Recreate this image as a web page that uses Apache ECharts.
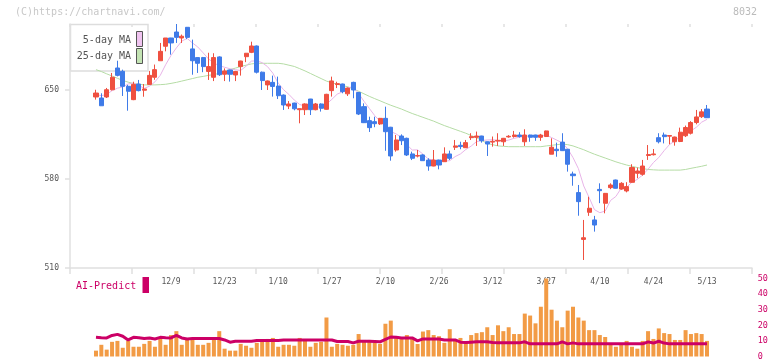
<!DOCTYPE html>
<html><head><meta charset="utf-8">
<script src="https://cdn.jsdelivr.net/npm/echarts@6/dist/echarts.min.js"></script>
<style>html,body{margin:0;padding:0;background:#fff}#c{width:772px;height:361px}</style>
</head><body><div id="c"></div>
<script>
const dates = ['11/19','11/20','11/21','11/22','11/25','11/26','11/27','11/28','11/29',
'12/2','12/3','12/4','12/5','12/6','12/9','12/10','12/11','12/12','12/13','12/16','12/17','12/18','12/19','12/20','12/23','12/24','12/25','12/26','12/27','12/30',
'1/6','1/7','1/8','1/9','1/10','1/14','1/15','1/16','1/17','1/20','1/21','1/22','1/23','1/24','1/27','1/28','1/29','1/30','1/31',
'2/3','2/4','2/5','2/6','2/7','2/10','2/12','2/13','2/14','2/17','2/18','2/19','2/20','2/21','2/25','2/26','2/27','2/28',
'3/3','3/4','3/5','3/6','3/7','3/10','3/11','3/12','3/13','3/14','3/17','3/18','3/19','3/21','3/24','3/25','3/26','3/27','3/28','3/31',
'4/1','4/2','4/3','4/4','4/7','4/8','4/9','4/10','4/11','4/14','4/15','4/16','4/17','4/18','4/21','4/22','4/23','4/24','4/25','4/28','4/30',
'5/1','5/2','5/7','5/8','5/9','5/12','5/13'];

const opens = [644.5,643.7,644.5,650.2,667.3,664.7,652.9,642.4,654.7,649.8,
654.4,660,673,684.4,690.9,695.6,690.9,699.3,682.3,675.5,
675.5,664.6,660,676,662.4,665.7,661.8,668.4,676.2,679.6,
684.6,664,654,656,653.1,646,637.4,639.7,634.5,634.5,
642.9,634.5,639,634.8,649.5,654.3,654.7,647,656,648,
636.9,625.9,625.1,623.3,627.7,620.7,602.8,613.8,612,599.7,
598,598.9,594.9,590.2,594.9,593.6,599.7,605,606.5,604.6,
612.5,612.8,613.8,609.3,609,609.8,609.3,613.1,613.4,614.6,
609.3,614.6,614.6,612.8,613.4,599.5,603.4,609,603.4,583.9,
569.3,532.5,553.8,547.8,571.8,560.9,573.2,579.2,572.1,570.6,
577.4,584.5,583.7,598.5,599.1,612.5,614.6,613.7,609.3,609.5,
614,616,624.4,629,635];
const closes = [647.6,637.6,650.2,660,661.5,652.9,649,654.4,649.5,650.8,
661.5,666,680.4,690.9,687,691.4,692.3,691.4,673,671,
668.4,668.4,675.5,662,665,662.4,664.6,672.8,678.9,684.6,
664,657.4,657.1,652.8,645.5,638.2,639,635.2,635.3,639,
634.5,639,635.6,646.6,657.1,655,648.7,651.5,650,631.1,
624.3,620.4,623.5,627.7,617.2,598.1,610.7,610.1,598.9,596.3,
598.5,594.4,590.2,594.9,591,599.7,596.3,606,605.5,608.6,
613.3,613.8,610.1,607.5,609.6,610.4,612,613.6,614.6,613.4,
614.6,612.8,612.8,614.6,617.8,605,602.3,602.3,591.6,582.6,
562.2,533.8,557,543.8,570.8,568.7,575.3,572.7,576.6,574,
589,586.3,590.2,599.2,599.7,609.3,613.3,614.2,613,616.8,
620.5,624.4,628.8,632.8,628.2];
const lows = [642.4,637.6,643.7,649.6,660.7,645.3,633.7,642,648.9,644.7,
654,658,673,680.4,677.8,687,687,690,662,663.4,
664,657.9,657,661,657,656.6,657,661.3,671.9,679,
663,650,650,644.8,642.9,634.3,635,634,623.8,630.3,
630.3,634,633,634.5,644.8,651.5,647.4,645.3,643.5,630.3,
624,617,620.7,622.5,602.2,594.4,601.5,606.7,598.1,594.9,
597,594.4,586.5,590,587.6,593.5,594.9,602.8,603.4,604.5,
610.7,606,608.6,598.1,605.4,606,606,612.5,612.5,612.5,
606,609.3,610,610,613,599.5,597.5,602,585.8,574.7,
551.1,516.3,551,538.6,561,553,572,572.5,571.5,569.5,
577,580.6,582.6,595,598.5,608,608,607.3,606.2,609,
613,615,623,628,628];
const highs = [650.2,647.4,651.6,663.4,673,666,654,656.5,657.9,654.7,
665,670,687,690.9,691,701.9,693.6,699.5,689.6,675.5,
676,679.3,678.9,676.5,667,666,665,673,679,688,
685,664.5,657.5,661.3,660.5,646.5,641.3,640,635.5,639.5,
643,639.8,639.5,647,660.5,656.5,655,652,656.5,648.5,
639.5,629,629,628,636.9,621,614.6,615.1,612.5,601.5,
602.8,599.5,596.3,602.8,595.2,604.9,602.3,610.7,609.3,610.7,
616,617.3,614,609.5,613.4,616,612.3,614.5,617.8,616.8,
619.1,614.8,614.8,615.5,618,612,608.6,616,603.6,585.8,
575.3,547.8,566,551,576.6,569,576.6,579.5,577.5,577.5,
591.6,589,595,606.7,603.6,616,616.5,614.5,613.3,620.4,
622,625.5,634.3,635,638.2];
const ma5 = [646.5,645.5,646.5,649.5,651.4,652.4,654.7,655.6,653.5,651.3,
653,656.4,661.6,669.9,677.2,683.1,688.4,690.6,687,683.8,
679.2,674.4,671.3,669.1,667.9,666.7,665.9,665.4,668.7,672.7,
673,671.5,668.4,663.2,655.4,650.2,646.5,642.1,638.6,637.3,
636.6,636.6,636.7,638.9,642.6,646.7,648.6,651.8,652.5,647.3,
641.1,635.5,629.9,625.4,622.6,617.4,615.4,612.8,607,602.8,
602.9,599.6,595.7,594.9,593.8,594,594.4,597.6,599.7,603.2,
605.9,609.4,610.3,610.7,610.9,610.3,609.9,610.6,612,612.8,
613.6,613.8,613.6,613.6,614.5,612.6,610.5,608.4,603.8,596.8,
588.2,574.5,565.4,555.9,553.5,554.8,563.1,566.3,572.8,573.5,
577.5,579.7,583.2,587.7,592.9,596.9,602.3,607.1,609.9,613.3,
615.6,617.8,620.7,624.7,626.9];
const ma25 = [666,664.5,662.7,661,659.2,657.5,656.2,655,654.5,654,
654,654,654.2,654.5,655.2,656,657,658,659,660,
660.7,661.5,662.2,663,664.5,666,667.2,668.5,669.5,670.5,
671,671,671,671,671,670.5,669.5,668.5,666.8,665,
663,661,659,657,655.7,654.5,653.5,652.5,650.8,649,
647,645,643.2,641.5,639.7,638,636.5,635,633.2,631.5,
630,628.5,627,625.5,623.7,622,620.5,619,617.5,616,
614.2,612.5,610.2,608,607,606,605.7,605.4,605.4,605.4,
605.4,605.4,605.4,605.4,606,606.5,607,607.5,607,606,
604.5,603,601.2,599.5,598,596.5,595,593.5,592.2,591,
590,589,588.2,587.5,587.2,587,587,587,587,587,
587.5,588.4,589.2,590,591];
const volumes = [3.75,7.5,4.4,9.4,10,5.6,10,6.25,6.25,8.1,
10,6.25,11.9,7.5,13.75,16.25,7.5,10.6,11.25,7.5,
7.5,8.75,10.6,16.25,5,3.75,3.75,8.1,6.9,5.6,
8.75,10,11.25,11.9,6.25,7.5,7.5,6.9,11.9,10,
6.25,8.75,9.4,25,6.25,8.1,7.5,6.9,7.5,14.4,
10.6,10.6,8.75,8.1,21,23,13,12.5,13.75,11.9,
8,16,16.9,13.75,13,8.75,17.5,11.25,11.9,9.4,
13.75,15,15.6,18.75,13.75,20,16.25,18.75,14.4,14.4,
27.5,26.25,21.25,31.9,50,30,23,18.75,29.4,31.9,
25,23,16.9,16.9,13.75,12.5,8.1,6.25,8.1,10,
6.25,5,10,16.25,11.25,18,15,14.4,10.6,10.6,
16.9,14.4,15,14.4,10];
const aiPredict = [12.3,12,11.9,13.5,14.2,13,10.6,12.3,12,11.5,
11.9,11.25,12.3,12,11.9,13.5,11.9,11.25,11.5,11.5,
11.5,11.5,11.5,11.5,10.6,9.2,9.8,9.8,9.8,9.8,
10.2,10.2,10.2,10.2,10.2,10.6,10.6,10.6,10.6,10.6,
10.6,10.6,10.6,10.6,10.6,9.6,9.6,9.6,8.75,9.8,
9.8,9.8,9.6,9.4,11,12.5,12.3,11.9,11.9,11.9,
10,11.25,11.25,11.25,11.25,10.6,10.6,10.6,9.2,9,
9.2,9.4,9.4,9.4,9,8.75,8.75,8.75,8.75,8.75,
9.4,8.1,8.1,8.1,8.1,8.1,8.1,9.4,8.1,8.75,
8.1,8.1,8.1,8.1,8.1,8.1,8.1,8.1,8.1,8.1,
8.1,8.1,8.1,9.4,8.6,9.8,8.6,8.1,8.1,8.1,
8.1,8.1,8.1,8.1,8.1];
const priceTicks = [510, 580, 650];
const volumeTicks = [0, 10, 20, 30, 40, 50];

const FONT = 'DejaVu Sans Mono';
const AXIS = '#e0e0e0';
const UP = '#ef5040', DOWN = '#3f7be8';

const chart = echarts.init(document.getElementById('c'));
const candleData = dates.map((d, i) => [opens[i], closes[i], lows[i], highs[i]]);
const tickStyle = { color: AXIS, width: 1.5 };

chart.setOption({
  animation: false,
  textStyle: { fontFamily: FONT },
  grid: [
    { left: 70, right: 20, top: 24, bottom: 93 },
    { left: 93.3, right: 62.3, top: 24, bottom: 93 },
    { left: 93.3, right: 62.3, top: 278.5, bottom: 2.5 }
  ],
  xAxis: [
    { gridIndex: 0, type: 'value', min: 0, max: 11, interval: 1,
      axisLine: { show: true, lineStyle: tickStyle },
      axisTick: { show: true, length: 6, lineStyle: tickStyle },
      axisLabel: { show: false }, splitLine: { show: false } },
    { gridIndex: 0, type: 'value', min: 0, max: 11, interval: 1,
      axisLine: { show: false },
      axisTick: { show: true, inside: true, length: 3, lineStyle: tickStyle },
      axisLabel: { show: false }, splitLine: { show: false } },
    { gridIndex: 1, type: 'category', data: dates, boundaryGap: true,
      axisLine: { show: false }, axisTick: { show: false }, splitLine: { show: false },
      axisLabel: { interval: (i) => i >= 14 && (i - 14) % 10 === 0, margin: 10,
        color: '#555', fontSize: 8, fontFamily: FONT } },
    { gridIndex: 2, type: 'category', data: dates, boundaryGap: true, show: false }
  ],
  yAxis: [
    { gridIndex: 0, type: 'value', min: 510, max: 701.9,
      axisLine: { show: true, lineStyle: tickStyle },
      axisTick: { show: true, length: 5, customValues: priceTicks, lineStyle: tickStyle },
      axisLabel: { customValues: priceTicks, margin: 11, color: '#555', fontSize: 8, fontFamily: FONT },
      splitLine: { show: false } },
    { gridIndex: 0, type: 'value', min: 510, max: 701.9,
      axisLine: { show: false },
      axisTick: { show: true, inside: true, length: 4, customValues: priceTicks, lineStyle: tickStyle },
      axisLabel: { show: false }, splitLine: { show: false } },
    { gridIndex: 1, type: 'value', min: 510, max: 701.9, show: false },
    { gridIndex: 2, type: 'value', min: 0, max: 50, interval: 10, position: 'right', offset: 45,
      axisLine: { show: false }, axisTick: { show: false }, splitLine: { show: false },
      axisLabel: { customValues: volumeTicks, margin: 3, color: '#cc0066', fontSize: 8.5, fontFamily: FONT } }
  ],
  graphic: [
    { type: 'text', left: 15, top: 7, style: { text: '(C)https://chartnavi.com/', fill: '#c8c8c8', font: '10px "DejaVu Sans Mono"' } },
    { type: 'text', right: 15, top: 7, style: { text: '8032', fill: '#bbbbbb', font: '10px "DejaVu Sans Mono"' } },
    { type: 'rect', shape: { x: 70.5, y: 24.5, width: 77.5, height: 46.5 }, style: { fill: '#fff', stroke: '#dddddd', lineWidth: 1.5 } },
    { type: 'text', x: 131, y: 40, style: { text: '5-day MA', fill: '#555', font: '10px "DejaVu Sans Mono"', align: 'right', verticalAlign: 'middle' } },
    { type: 'rect', shape: { x: 136.5, y: 31.5, width: 6, height: 15 }, style: { fill: '#f0c4f0', stroke: '#555', lineWidth: 1 } },
    { type: 'text', x: 131, y: 56.5, style: { text: '25-day MA', fill: '#555', font: '10px "DejaVu Sans Mono"', align: 'right', verticalAlign: 'middle' } },
    { type: 'rect', shape: { x: 136.5, y: 48.5, width: 6, height: 15 }, style: { fill: '#c4e4b4', stroke: '#555', lineWidth: 1 } },
    { type: 'text', x: 76, y: 286, style: { text: 'AI-Predict', fill: '#cc0066', font: '10px "DejaVu Sans Mono"', verticalAlign: 'middle' } },
    { type: 'rect', shape: { x: 142.5, y: 277, width: 6.5, height: 16 }, style: { fill: '#cc0066' } }
  ],
  series: [
    { name: '25-day MA', type: 'line', xAxisIndex: 2, yAxisIndex: 2, data: ma25, showSymbol: false,
      lineStyle: { color: '#b5dca5', width: 1 }, z: 3 },
    { name: '5-day MA', type: 'line', xAxisIndex: 2, yAxisIndex: 2, data: ma5, showSymbol: false,
      lineStyle: { color: '#e8b4e8', width: 1 }, z: 3 },
    { name: 'Price', type: 'candlestick', xAxisIndex: 2, yAxisIndex: 2, data: candleData, barWidth: 4.6,
      itemStyle: { color: UP, color0: DOWN, borderColor: UP, borderColor0: DOWN, borderWidth: 1 }, z: 4 },
    { name: 'Volume', type: 'bar', xAxisIndex: 3, yAxisIndex: 3, data: volumes, barWidth: 4,
      itemStyle: { color: '#f29b45' }, z: 2 },
    { name: 'AI-Predict', type: 'line', xAxisIndex: 3, yAxisIndex: 3, data: aiPredict, showSymbol: false,
      lineStyle: { color: '#cc0066', width: 3 }, z: 3 }
  ]
});
</script></body></html>
